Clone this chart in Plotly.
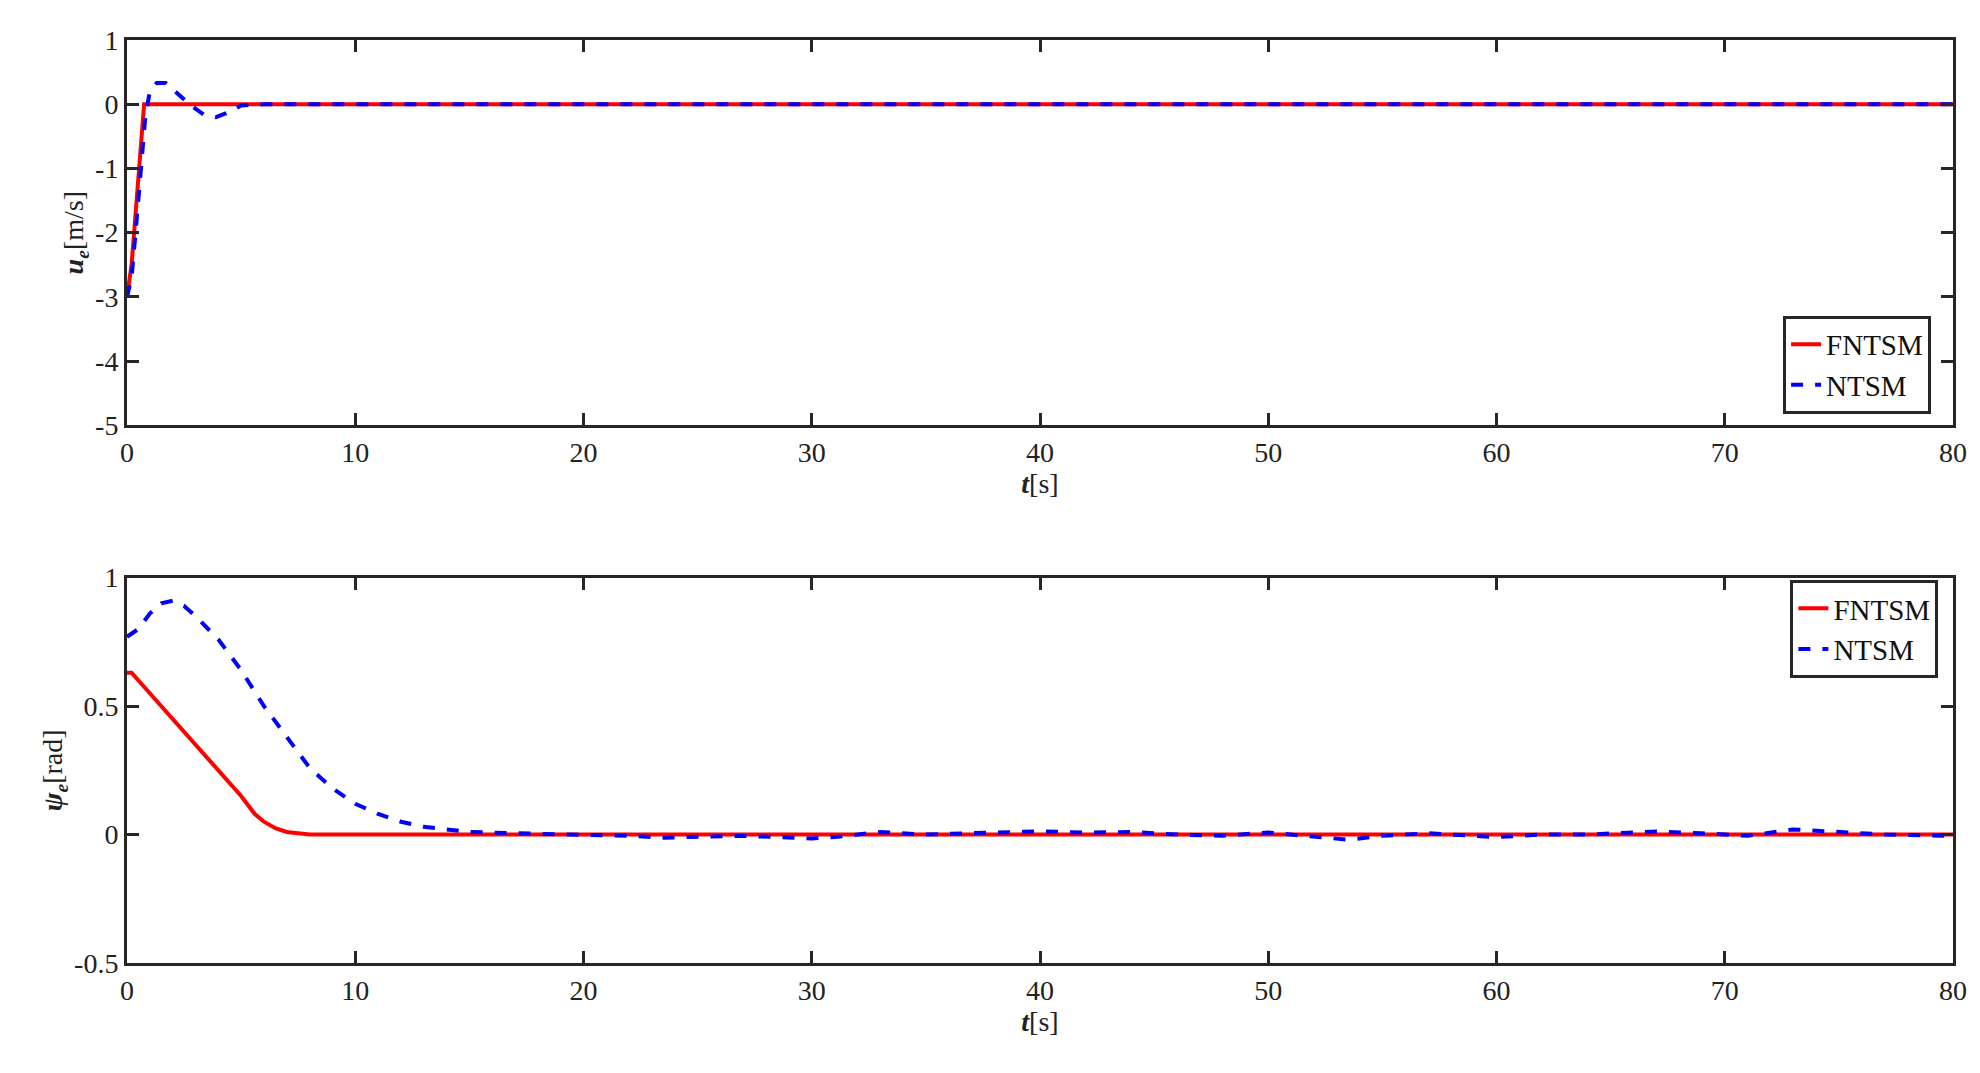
import plotly.graph_objects as go
from plotly.subplots import make_subplots

t_u_f = [0, 0.2, 0.4, 0.6, 0.75, 1.0, 80]
u_f = [-3.0, -2.5, -1.6, -0.6, 0.0, 0.0, 0.0]
t_u_n = [0, 0.2, 0.4, 0.6, 0.8, 1.0, 1.3, 1.7, 2.2, 2.8, 3.4, 3.9, 4.5, 5.0, 6, 80]
u_n = [-3.0, -2.7, -1.9, -1.0, -0.2, 0.2, 0.33, 0.33, 0.18, -0.02, -0.17, -0.2, -0.12, -0.02, 0.0, 0.0]

t_p_f = [0, 0.2, 1, 2, 3, 4, 5, 5.6, 6, 6.5, 7, 8, 80]
p_f = [0.63, 0.63, 0.55, 0.45, 0.35, 0.25, 0.15, 0.08, 0.05, 0.025, 0.01, 0.0, 0.0]
t_p_n = [0, 0.5, 1, 1.5, 2, 2.5, 3, 4, 5, 6, 7, 8, 9, 10, 11, 12, 13, 14, 15, 17, 20, 22, 23.5, 25, 27, 30, 31, 33, 35, 38, 40, 42, 44, 46, 48, 50, 52, 53.5, 55, 57, 60, 62, 64, 66, 67, 69, 71, 73, 75, 77, 80]
p_n = [0.77, 0.8, 0.86, 0.9, 0.91, 0.89, 0.85, 0.76, 0.64, 0.5, 0.38, 0.26, 0.18, 0.12, 0.08, 0.05, 0.03, 0.02, 0.01, 0.005, 0.0, -0.005, -0.012, -0.008, -0.005, -0.015, -0.01, 0.01, 0.0, 0.008, 0.012, 0.008, 0.01, 0.0, -0.005, 0.008, -0.01, -0.02, -0.005, 0.005, -0.01, 0.0, 0.0, 0.008, 0.012, 0.005, -0.005, 0.02, 0.01, 0.0, -0.005]

u_ticks = [-5, -4, -3, -2, -1, 0, 1]
u_labels = ["-5", "-4", "-3", "-2", "-1", "0", "1"]
p_ticks = [-0.5, 0, 0.5, 1]
p_labels = ["-0.5", "0", "0.5", "1"]

fig = make_subplots(rows=2, cols=1, vertical_spacing=0.165)
fnt = dict(family="Liberation Serif", size=28, color="#222")

def add(row, tf, f, tn, n, lg):
    fig.add_trace(go.Scatter(x=tf, y=f, mode="lines", name="FNTSM", legend=lg,
                             line=dict(color="red", width=4)), row=row, col=1)
    fig.add_trace(go.Scatter(x=tn, y=n, mode="lines", name="NTSM", legend=lg,
                             line=dict(color="blue", width=4, dash="dash")), row=row, col=1)

add(1, t_u_f, u_f, t_u_n, u_n, "legend")
add(2, t_p_f, p_f, t_p_n, p_n, "legend2")

ax = dict(showline=True, mirror="ticks", linecolor="#262626", linewidth=3, ticks="inside",
          ticklen=12, tickwidth=3, tickcolor="#262626", showgrid=False, zeroline=False,
          tickfont=fnt)
for r in (1, 2):
    fig.update_xaxes(range=[0, 80], dtick=10, title=dict(text="<b><i>t</i></b>[s]", font=fnt, standoff=4), row=r, col=1, **ax)
fig.update_yaxes(range=[-5, 1], tickvals=u_ticks, ticktext=u_labels,
                 title=dict(text="<b><i>u<sub>e</sub></i></b>[m/s]", font=fnt, standoff=4), row=1, col=1, **ax)
fig.update_yaxes(range=[-0.5, 1], tickvals=p_ticks, ticktext=p_labels,
                 title=dict(text="<b><i>ψ<sub>e</sub></i></b>[rad]", font=fnt, standoff=4), row=2, col=1, **ax)

leg = dict(font=dict(family="Liberation Serif", size=29, color="#111"), bgcolor="white",
           bordercolor="#262626", borderwidth=3, xanchor="right", tracegroupgap=0, yref="paper")
fig.update_layout(
    width=1980, height=1073, plot_bgcolor="white", paper_bgcolor="white",
    margin=dict(l=119, r=35, t=32, b=118),
    legend=dict(x=0.988, y=0.595, yanchor="bottom", **leg),
    legend2=dict(x=0.992, y=0.415, yanchor="top", **leg),
)
fig.write_html("out.html")
